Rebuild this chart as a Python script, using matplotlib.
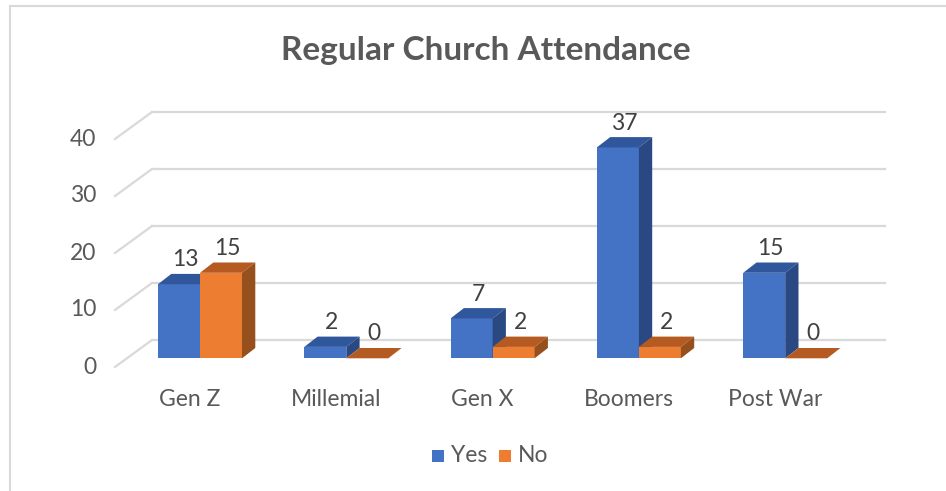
import matplotlib as mpl
mpl.use('agg')
import matplotlib.pyplot as plt
from matplotlib.patches import Polygon, Rectangle

plt.rcParams['font.family'] = ['Lato', 'DejaVu Sans']

categories = ['Gen Z', 'Millemial', 'Gen X', 'Boomers', 'Post War']
yes_vals = [13, 2, 7, 37, 15]
no_vals = [15, 0, 2, 2, 0]
yticks = [0, 10, 20, 30, 40]

W, H = 946, 491
fig = plt.figure(figsize=(W / 100, H / 100), dpi=100)
ax = fig.add_axes([0, 0, 1, 1])

# pixel -> data mapping (category spacing 146.3 px, 5.7 px per unit)
x0px, xsp = 200.0, 146.3
y0px, ysc = 358.3, 5.7
ax.set_xlim((0 - x0px) / xsp, (W - x0px) / xsp)
ax.set_ylim((y0px - H) / ysc, y0px / ysc)
ax.axis('off')

bw = 42 / xsp                 # bar width
ddx, ddy = 13.3 / xsp, 10.3 / ysc   # bar depth
wdx, wdy = 25 / xsp, 18.3 / ysc     # bar front -> back wall
fdx, fdy = 37 / xsp, 27 / ysc       # back wall -> front edge of floor
wall_l, wall_r = (152 - x0px) / xsp, (885 - x0px) / xsp

fs = 16.5
grid_c = '#D9D9D9'
for v in yticks:
    yb = v + wdy
    ax.plot([wall_l, wall_r], [yb, yb], color=grid_c, lw=1.6, zorder=1)
    ax.plot([wall_l, wall_l - fdx], [yb, yb - fdy], color=grid_c, lw=1.6, zorder=1)
    ax.text(wall_l - fdx - 19 / xsp, yb - fdy, str(v), ha='right', va='center',
            fontsize=fs, color='#595959')


def bar3d(x, v, front, top, side):
    ax.bar(x, v, width=bw, align='edge', color=front, zorder=3, linewidth=0)
    xr = x + bw
    ax.add_patch(Polygon([(x, v), (xr, v), (xr + ddx, v + ddy), (x + ddx, v + ddy)],
                         closed=True, facecolor=top, edgecolor='none', zorder=3))
    ax.add_patch(Polygon([(xr, 0), (xr, v), (xr + ddx, v + ddy), (xr + ddx, ddy)],
                         closed=True, facecolor=side, edgecolor='none', zorder=3))
    ax.text(x + bw / 2 + ddx / 2, v + ddy + 14 / ysc, str(v), ha='center', va='center',
            fontsize=fs, color='#404040', zorder=4)


blue, blue_top, blue_side = '#4472C4', '#30569B', '#2A4882'
orng, orng_top, orng_side = '#ED7D31', '#B55B22', '#95501E'

for i, cat in enumerate(categories):
    bar3d(i - bw, yes_vals[i], blue, blue_top, blue_side)
    bar3d(i, no_vals[i], orng, orng_top, orng_side)
    ax.text(i - 10 / xsp, (y0px - 399) / ysc, cat, ha='center', va='center',
            fontsize=fs, color='#595959')

ax.text((486 - x0px) / xsp, (y0px - 50) / ysc, 'Regular Church Attendance',
        ha='center', va='center', fontsize=24, fontweight='bold', color='#595959')

# legend
ly = (y0px - 456) / ysc
for px, lab, c in [(432, 'Yes', blue), (499, 'No', orng)]:
    ax.add_patch(Rectangle(((px - x0px) / xsp, ly - 6 / ysc), 12 / xsp, 12 / ysc,
                           facecolor=c, edgecolor='none'))
    ax.text((px + 19 - x0px) / xsp, ly, lab, ha='left', va='center',
            fontsize=fs, color='#595959')

# chart border
fig.add_artist(plt.Line2D([9.5 / W, 9.5 / W], [0, 1 - 5.5 / H], color='#D9D9D9',
                          lw=1.5, transform=fig.transFigure))
fig.add_artist(plt.Line2D([9.5 / W, 1], [1 - 5.5 / H, 1 - 5.5 / H], color='#D9D9D9',
                          lw=1.5, transform=fig.transFigure))

fig.savefig('out.png', dpi=100)
